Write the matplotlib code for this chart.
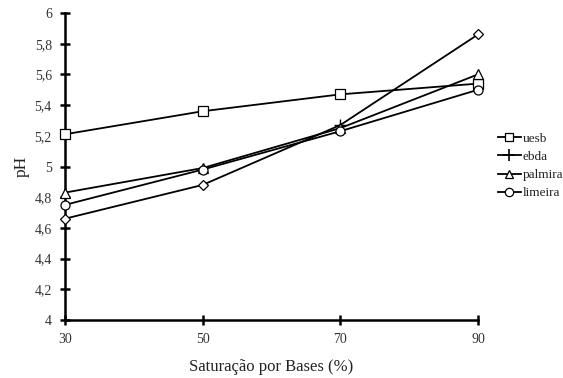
import matplotlib
matplotlib.use("Agg")
import matplotlib.pyplot as plt
from matplotlib.lines import Line2D

x = [30, 50, 70, 90]
uesb = [5.21, 5.36, 5.47, 5.54]
ebda = [4.66, 4.88, 5.27, 5.86]
palmira = [4.83, 4.99, 5.25, 5.60]
limeira = [4.75, 4.98, 5.23, 5.50]
yticks = [4.0, 4.2, 4.4, 4.6, 4.8, 5.0, 5.2, 5.4, 5.6, 5.8, 6.0]
ytick_labels = ["4", "4,2", "4,4", "4,6", "4,8", "5", "5,2", "5,4", "5,6", "5,8", "6"]
xticks = [30, 50, 70, 90]

plt.rcParams['font.family'] = ['Liberation Serif', 'DejaVu Serif']

fig = plt.figure(figsize=(5.63, 3.78), dpi=100)
ax = fig.add_axes([65/563, 1-320/378, (478-65)/563, (320-13)/378])

lw = 1.3
ms = 6.5
common = dict(color='black', lw=lw, markerfacecolor='white', markeredgecolor='black',
              markeredgewidth=0.9, clip_on=False)
ax.plot(x, uesb, marker='s', ms=ms, zorder=3, **common)
ax.plot(x, ebda, marker='D', ms=5, markevery=[0, 1, 3], zorder=3, **common)
ax.plot([x[2]], [ebda[2]], marker='+', ms=8, color='black', mew=1.0, ls='none', zorder=2, clip_on=False)
ax.plot(x, palmira, marker='^', ms=ms, zorder=3, **common)
ax.plot(x, limeira, marker='o', ms=ms, zorder=4, **common)

ax.set_xlim(30, 90)
ax.set_ylim(4, 6)
ax.set_xticks(xticks)
ax.set_xticklabels([str(v) for v in xticks])
ax.set_yticks(yticks)
ax.set_yticklabels(ytick_labels)
for s in ['top', 'right']:
    ax.spines[s].set_visible(False)
for s in ['left', 'bottom']:
    ax.spines[s].set_linewidth(1.8)
ax.tick_params(axis='both', direction='inout', length=7, width=1.8, labelsize=10,
               colors='black', labelcolor='#333333')
ax.tick_params(axis='y', pad=6)
ax.tick_params(axis='x', pad=6)
ax.set_xlabel('Saturação por Bases (%)', fontsize=12, labelpad=9, color='#222222')
ax.set_ylabel('pH', fontsize=12.5, labelpad=3, color='#222222')

handles = [
    Line2D([], [], color='black', lw=lw, marker='s', ms=6, mfc='white', mec='black', mew=0.9),
    Line2D([], [], color='black', lw=lw, marker='+', ms=9, mec='black', mew=1.2),
    Line2D([], [], color='black', lw=lw, marker='^', ms=6, mfc='white', mec='black', mew=0.9),
    Line2D([], [], color='black', lw=lw, marker='o', ms=6, mfc='white', mec='black', mew=0.9),
]
leg = fig.legend(handles, ['uesb', 'ebda', 'palmira', 'limeira'], loc='center left',
                 bbox_to_anchor=(493/563, 1-166/378), frameon=False, fontsize=9.5,
                 handlelength=1.7, handletextpad=0.15, labelspacing=0.45, borderaxespad=0)
for t in leg.get_texts():
    t.set_color('#222222')

fig.savefig('out.png', dpi=100)
